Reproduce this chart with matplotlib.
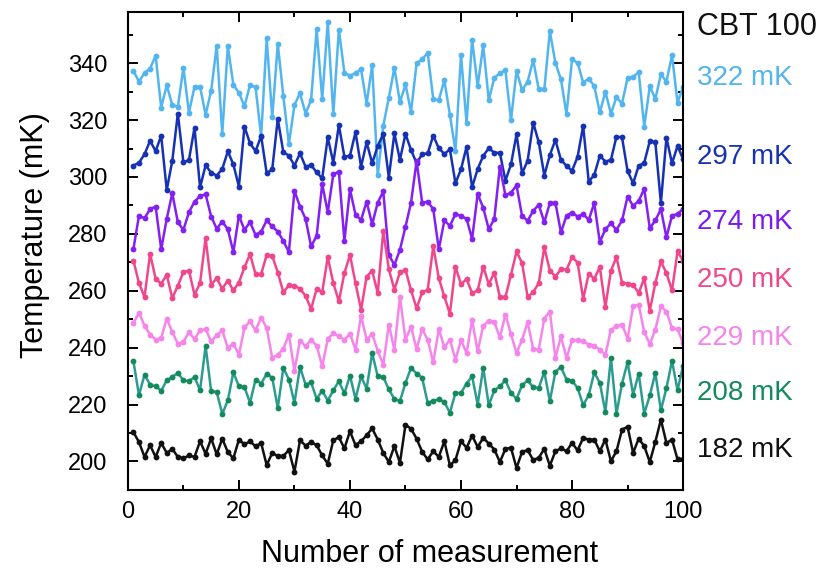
import matplotlib
matplotlib.use("Agg")
import matplotlib.pyplot as plt
import matplotlib.transforms as mtransforms
import numpy as np
from matplotlib.ticker import MultipleLocator

plt.rcParams['font.family'] = ['Liberation Sans', 'DejaVu Sans']

# measurement index
n = np.arange(1, 101)

t322 = [337.3, 333.5, 336.6, 338.1, 342.6, 324.4, 332.2, 325.3, 324.7, 338.4,
        322.6, 331.7, 331.7, 321.9, 330.3, 346.1, 315.1, 346.0, 332.4, 329.6,
        324.8, 332.4, 331.5, 314.2, 348.7, 320.9, 346.7, 328.4, 311.6, 325.3,
        329.4, 322.3, 327.0, 351.9, 327.4, 354.3, 322.0, 351.8, 336.6, 335.6,
        336.6, 337.8, 325.8, 339.3, 300.7, 318.0, 327.8, 338.4, 326.2, 332.5,
        322.9, 339.9, 341.4, 343.6, 327.4, 327.0, 334.0, 321.8, 309.1, 343.0,
        318.8, 348.3, 331.9, 346.3, 327.0, 334.9, 336.4, 337.5, 320.0, 337.3,
        330.5, 333.5, 341.1, 330.8, 330.8, 351.2, 340.1, 334.3, 322.1, 341.3,
        340.1, 333.2, 334.6, 331.9, 322.7, 329.9, 322.3, 328.0, 325.8, 334.9,
        335.2, 336.8, 317.7, 331.9, 327.4, 336.1, 333.5, 342.8, 326.1, 331.7]

t297 = [304.0, 305.0, 308.0, 312.7, 309.1, 314.5, 295.4, 305.7, 322.3, 305.1,
        306.0, 317.3, 296.3, 304.1, 301.5, 300.5, 302.8, 309.0, 304.4, 296.6,
        317.7, 311.8, 309.1, 314.4, 301.3, 302.7, 320.4, 308.7, 307.5, 304.0,
        308.3, 303.6, 304.2, 301.6, 299.5, 313.9, 305.0, 318.2, 307.1, 307.5,
        315.7, 303.6, 312.2, 304.8, 310.9, 315.1, 299.8, 315.3, 306.0, 315.1,
        309.5, 304.8, 308.0, 308.3, 314.5, 310.1, 308.1, 309.7, 297.8, 302.7,
        310.6, 296.4, 302.8, 307.4, 310.1, 308.5, 308.5, 298.7, 304.4, 315.0,
        301.3, 305.7, 319.1, 312.2, 300.5, 307.7, 313.0, 306.0, 303.9, 302.2,
        307.1, 317.9, 298.4, 300.7, 307.5, 305.4, 306.0, 314.2, 313.9, 302.1,
        297.8, 303.9, 305.0, 312.6, 312.2, 290.8, 313.8, 304.8, 310.9, 306.2]

t274 = [274.7, 286.4, 285.5, 288.7, 289.6, 274.6, 285.3, 294.3, 284.1, 281.4,
        287.6, 291.3, 293.3, 293.9, 286.1, 281.8, 284.3, 281.6, 273.6, 286.4,
        281.4, 284.1, 279.6, 280.8, 284.7, 282.6, 280.8, 277.5, 273.6, 295.1,
        289.6, 285.3, 275.6, 279.3, 297.5, 287.6, 300.9, 301.9, 277.5, 295.7,
        286.7, 284.9, 291.3, 283.4, 291.0, 294.9, 272.6, 269.1, 274.4, 282.5,
        291.0, 305.6, 291.0, 291.3, 288.7, 274.6, 284.7, 282.8, 287.0, 286.3,
        285.3, 278.2, 294.0, 289.2, 281.6, 285.3, 303.6, 293.5, 294.5, 297.0,
        286.3, 284.6, 288.1, 290.2, 284.1, 290.8, 291.0, 280.5, 286.4, 287.5,
        286.1, 287.0, 284.9, 290.8, 277.1, 281.6, 283.7, 281.4, 284.7, 293.1,
        289.8, 291.6, 295.8, 282.0, 284.7, 288.7, 278.8, 286.4, 287.0, 288.8]

t250 = [270.6, 262.7, 257.8, 273.0, 264.2, 262.5, 265.6, 257.4, 261.8, 266.5,
        267.1, 258.6, 262.7, 278.5, 262.1, 264.4, 260.7, 263.6, 260.1, 262.9,
        268.2, 272.9, 265.8, 265.8, 272.6, 272.3, 266.4, 259.5, 261.9, 261.8,
        260.7, 258.2, 253.6, 260.7, 259.5, 271.8, 262.7, 256.3, 266.2, 272.6,
        262.7, 253.3, 265.0, 267.0, 259.2, 281.0, 267.6, 260.4, 266.5, 267.4,
        260.1, 253.9, 259.4, 260.4, 275.6, 264.4, 258.0, 251.9, 268.5, 262.3,
        264.1, 259.2, 260.1, 268.5, 262.3, 266.4, 257.8, 257.8, 265.6, 273.8,
        269.7, 257.8, 259.5, 262.7, 275.3, 267.1, 265.0, 267.6, 267.4, 271.8,
        269.9, 257.1, 266.0, 264.2, 268.3, 254.3, 267.0, 271.8, 262.9, 262.5,
        262.1, 259.2, 264.4, 253.0, 262.7, 270.3, 266.2, 260.1, 273.8, 270.6]

t229 = [248.7, 252.2, 247.7, 244.6, 242.8, 243.4, 250.2, 245.5, 241.4, 242.0,
        245.5, 243.0, 246.1, 246.5, 242.2, 244.3, 246.1, 239.9, 241.4, 237.5,
        247.1, 249.2, 246.1, 250.6, 246.9, 236.4, 237.5, 239.6, 244.6, 231.9,
        242.5, 240.5, 242.7, 240.7, 233.5, 243.0, 245.1, 244.0, 242.8, 244.9,
        239.3, 251.2, 242.8, 244.8, 238.9, 234.0, 248.1, 239.3, 257.8, 242.8,
        247.3, 239.5, 246.5, 242.8, 234.8, 246.5, 240.2, 242.8, 235.8, 242.6,
        238.1, 249.8, 238.7, 247.7, 249.5, 248.9, 243.6, 251.6, 244.8, 238.1,
        242.8, 248.9, 239.6, 239.3, 250.2, 252.7, 236.4, 244.0, 236.4, 242.6,
        242.6, 242.2, 241.1, 240.7, 239.3, 237.5, 246.3, 247.5, 248.1, 243.2,
        254.5, 255.1, 245.5, 241.3, 246.3, 254.5, 252.7, 246.9, 246.5, 241.6]

t208 = [235.2, 223.3, 230.5, 227.0, 226.4, 224.9, 228.5, 229.7, 231.1, 228.5,
        228.2, 229.7, 225.0, 240.5, 224.7, 224.4, 216.7, 221.5, 231.3, 226.4,
        226.1, 220.6, 228.8, 227.4, 230.8, 229.4, 218.8, 232.9, 228.8, 220.6,
        233.2, 227.0, 227.8, 222.0, 224.9, 221.4, 225.0, 228.2, 223.9, 230.2,
        222.0, 229.9, 225.6, 238.1, 229.9, 229.7, 225.3, 222.0, 221.2, 227.6,
        232.9, 230.9, 229.4, 220.6, 221.4, 221.8, 220.9, 217.1, 224.1, 224.1,
        227.4, 229.9, 220.0, 232.9, 219.8, 225.0, 226.4, 228.5, 224.1, 222.0,
        226.8, 228.5, 226.1, 225.8, 231.5, 221.2, 231.5, 233.2, 228.8, 228.4,
        225.8, 219.8, 223.3, 231.3, 227.6, 217.4, 236.4, 216.8, 227.4, 234.9,
        223.5, 230.9, 216.8, 223.2, 231.1, 218.0, 225.8, 235.4, 225.0, 233.7]

t182 = [210.3, 206.8, 201.6, 205.7, 201.6, 206.5, 203.0, 204.4, 201.6, 201.1,
        202.1, 201.6, 207.1, 202.7, 208.1, 202.5, 208.0, 203.3, 201.1, 207.7,
        206.0, 207.1, 205.3, 206.5, 198.7, 203.0, 201.9, 201.9, 204.0, 196.4,
        207.4, 205.6, 206.8, 205.7, 202.1, 199.2, 207.5, 208.5, 204.6, 210.6,
        205.7, 207.1, 209.2, 211.6, 207.7, 203.0, 199.8, 205.4, 199.5, 212.9,
        211.5, 208.0, 203.4, 200.7, 203.6, 201.6, 207.1, 198.6, 200.5, 207.1,
        204.8, 209.1, 205.1, 208.3, 206.3, 204.2, 199.8, 204.4, 204.8, 197.7,
        203.4, 204.0, 200.5, 201.3, 204.4, 198.5, 203.6, 204.6, 203.6, 206.5,
        203.9, 208.3, 207.7, 207.7, 203.6, 207.7, 200.1, 203.6, 211.2, 212.2,
        203.0, 208.0, 205.4, 199.8, 206.9, 214.7, 206.5, 207.7, 200.7, 200.7]

labels = ['322 mK', '297 mK', '274 mK', '250 mK', '229 mK', '208 mK', '182 mK']
series = [t322, t297, t274, t250, t229, t208, t182]
line_colors = ['#52b5ef', '#1631b3', '#8420f2', '#f0468c', '#f585ea', '#2c9c90', '#111111']
dot_colors = ['#52b5ef', '#1631b3', '#8420f2', '#f0468c', '#f585ea', '#138a5a', '#111111']
text_colors = ['#52b5ef', '#1631b3', '#7a1aee', '#f0468c', '#f585ea', '#138a5a', '#111111']
label_y = [334.7, 307.0, 284.2, 263.9, 243.5, 224.2, 204.2]

fig = plt.figure(figsize=(8.25, 5.69), dpi=100)
ax = fig.add_axes([0.155, 0.139, 0.673, 0.840])

for vals, lc, dc in zip(series, line_colors, dot_colors):
    ax.plot(n, vals, '-o', color=lc, lw=1.8, ms=4.2, mfc=dc, mec=dc, mew=0)

ax.set_xlim(0, 100)
ax.set_ylim(190, 358)
ax.xaxis.set_major_locator(MultipleLocator(20))
ax.xaxis.set_minor_locator(MultipleLocator(10))
ax.yaxis.set_major_locator(MultipleLocator(20))
ax.yaxis.set_minor_locator(MultipleLocator(10))
ax.tick_params(which='both', direction='in', top=True, right=True, width=1.4, labelsize=17)
ax.tick_params(which='major', length=7.5)
ax.tick_params(which='minor', length=3.8)
ax.tick_params(axis='x', which='major', pad=8)
ax.tick_params(axis='y', which='major', pad=15)
for sp in ax.spines.values():
    sp.set_linewidth(1.5)

ax.set_xlabel('Number of measurement', fontsize=22)
ax.set_ylabel('Temperature (mK)', fontsize=22)
ax.xaxis.set_label_coords(0.544, -0.103)
ax.yaxis.set_label_coords(-0.14, 0.533)

# temperature tags on the right side
trans = mtransforms.blended_transform_factory(ax.transAxes, ax.transData)
ax.text(1.025, 352.6, 'CBT 100', transform=trans, fontsize=22, color='#111111',
        ha='left', va='center')
for txt, yy, c in zip(labels, label_y, text_colors):
    ax.text(1.025, yy, txt, transform=trans, fontsize=20, color=c, ha='left', va='center')

fig.savefig('out.png', dpi=100)
